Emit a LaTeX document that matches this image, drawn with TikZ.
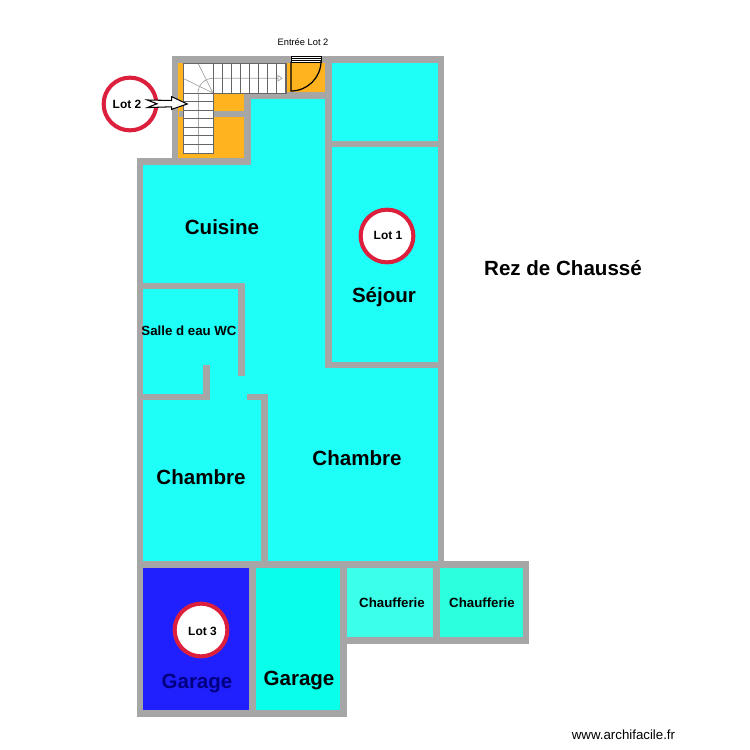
\documentclass[tikz,border=0pt]{standalone}
\usepackage{fontspec}
\setmainfont{Liberation Sans}
\usetikzlibrary{arrows}

\definecolor{wallgrey}{HTML}{A6A6A6}
\definecolor{roomcyan}{HTML}{1EFFF8}
\definecolor{garagecyan}{HTML}{08FFEA}
\definecolor{boilerone}{HTML}{3BFFE8}
\definecolor{boilertwo}{HTML}{2BFFDD}
\definecolor{garageblue}{HTML}{2020FF}
\definecolor{stairorange}{HTML}{FFB31E}
\definecolor{lotred}{HTML}{DC1F3D}
\definecolor{garagetext}{HTML}{000080}

\tikzset{
  wall/.style={line width=3.7pt,draw=wallgrey,line cap=rect},
  tread/.style={line width=0.55pt,draw=black!60},
  guide/.style={line width=0.4pt,draw=black!35},
  bigroom/.style={font=\fontsize{11.7}{13}\selectfont\bfseries},
  smallroom/.style={font=\fontsize{7.55}{9}\selectfont\bfseries},
  lotmark/.style={circle,draw=lotred,fill=white,line width=2.3pt,minimum size=30pt,inner sep=0pt},
  lottext/.style={font=\fontsize{6.8}{8}\selectfont\bfseries}
}

\begin{document}
\begin{tikzpicture}[x=0.02cm,y=-0.02cm]
\useasboundingbox (0,0) rectangle (750,750);

% rooms
\fill[stairorange] (175,59) rectangle (328,96);
\fill[stairorange] (175,96) rectangle (247,161);
\fill[roomcyan] (328,59) rectangle (441,365);
\fill[roomcyan] (247,96) rectangle (328,161);
\fill[roomcyan] (140,161) rectangle (328,565);
\fill[roomcyan] (328,365) rectangle (441,565);
\fill[garageblue] (140,565) rectangle (252,714);
\fill[garagecyan] (252,565) rectangle (344,714);
\fill[boilerone] (344,565) rectangle (436,640);
\fill[boilertwo] (436,565) rectangle (526,640);

% walls
\draw[wall] (140,161) -- (140,713.5) -- (343.5,713.5) -- (343.5,564.5);
\draw[wall] (140,161.5) -- (247.5,161.5) -- (247.5,95.5) -- (328.5,95.5);
\draw[wall] (175,161) -- (175,59.5) -- (441,59.5) -- (441,564.5);
\draw[wall] (328.5,59.5) -- (328.5,365) -- (441,365);
\draw[wall] (328.5,144) -- (441,144);
\draw[wall] (182,114) -- (247.5,114);
\draw[wall] (140,286) -- (241.5,286) -- (241.5,373);
\draw[wall] (140,397) -- (206.5,397) -- (206.5,368);
\draw[wall] (250,397) -- (264.5,397) -- (264.5,564.5);
\draw[wall] (140,564.5) -- (526,564.5) -- (526,640.5) -- (343.5,640.5);
\draw[wall] (436.5,564.5) -- (436.5,640.5);
\draw[wall] (252.5,564.5) -- (252.5,713.5);

% stairs
\fill[white] (183,63) rectangle (286,93);
\fill[white] (183,93) rectangle (213,153);
\draw[guide] (198,63.3) -- (213,93);
\draw[guide] (183,78.3) -- (213,93);
\draw[guide] (198,93) to[out=90,in=180] (213,78.3) -- (278,78.3);
\draw[guide] (198,93) -- (198,153);
\draw[guide] (278,75.5) -- (282,78.3) -- (278,81) -- cycle;
\foreach \i in {0,...,8}
  \draw[tread] ({213+9.1*\i},63.3) -- ({213+9.1*\i},93);
\foreach \i in {0,...,7}
  \draw[tread] (183,{93+8.57*\i}) -- (213,{93+8.57*\i});
\draw[tread] (183,63.3) -- (286,63.3) -- (286,93) -- (213,93) -- (213,153) -- (183,153) -- cycle;

% door
\fill[white] (291,56.7) rectangle (321,62);
\draw[line width=0.5pt] (291,56.7) rectangle (321,62);
\draw[line width=0.5pt] (291,58.4) -- (321,58.4);
\draw[line width=0.5pt] (291,60.2) -- (321,60.2);
\draw[line width=0.7pt] (291,62) -- (291,91) arc[start angle=90,end angle=0,radius=30];

% lots
\node[lotmark] (lot2) at (130,104) {};
\node[lotmark] (lot1) at (387,236) {};
\node[lotmark] (lot3) at (201,630) {};
\node[lottext] (lot2text) at (127,104.5) {Lot 2};
\node[lottext] (lot1text) at (388,235) {Lot 1};
\node[lottext] (lot3text) at (202.5,631.5) {Lot 3};

% entry arrow
\draw[fill=white,line width=0.6pt] (147.3,100) -- (171.7,100.5) -- (171.7,96.7) -- (187.3,104) -- (171.7,109.3) -- (171.7,106.8) -- (147.3,107.6) -- (157,103.8) -- cycle;

% labels
\node[font=\fontsize{5.3}{7}\selectfont] (entree) at (303,42) {Entrée Lot 2};
\node[bigroom] (cuisine) at (222,227) {Cuisine};
\node[bigroom] (sejour) at (384,297) {Séjour};
\node[bigroom] (rez) at (563,268) {Rez de Chaussé};
\node[smallroom] (salle) at (189,331) {Salle d eau WC};
\node[bigroom] (chambre1) at (357,458) {Chambre};
\node[bigroom] (chambre2) at (201,477) {Chambre};
\node[bigroom,text=garagetext] (garage1) at (197,683.5) {Garage};
\node[bigroom] (garage2) at (299,680.5) {Garage};
\node[smallroom] (chaufferie1) at (392,603) {Chaufferie};
\node[smallroom] (chaufferie2) at (482,603) {Chaufferie};
\node[font=\fontsize{7.55}{9}\selectfont] (site) at (623.5,735) {www.archifacile.fr};
\end{tikzpicture}
\end{document}
